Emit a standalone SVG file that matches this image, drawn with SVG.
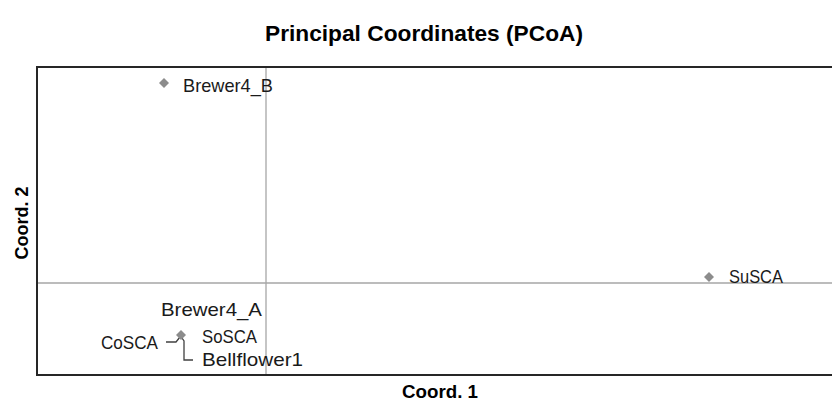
<svg xmlns="http://www.w3.org/2000/svg" width="832" height="403" viewBox="0 0 832 403">
<style>
.lbl{font-family:"Liberation Sans",Arial,sans-serif;font-size:19px;fill:#1a1a1a}
.ttl{font-family:"Liberation Sans",Arial,sans-serif;font-size:22px;font-weight:bold;fill:#000}
.axl{font-family:"Liberation Sans",Arial,sans-serif;font-size:18px;font-weight:bold;fill:#000}
.pt{fill:#8c8c8c}
.zero{stroke:#a6a6a6;stroke-width:1.3;fill:none}
.lead{stroke:#404040;stroke-width:1.3;fill:none}
</style>
<defs>
<path id="dia" d="M0,-5 L5,0 L0,5 L-5,0 Z"/>
</defs>
<rect width="832" height="403" fill="#fff"/>
<text class="ttl" x="424" y="41" text-anchor="middle" textLength="318" lengthAdjust="spacingAndGlyphs">Principal Coordinates (PCoA)</text>
<g id="axes">
<line class="zero" x1="36" y1="283" x2="832" y2="283"/>
<line class="zero" x1="266" y1="67" x2="266" y2="376"/>
<path d="M832,67 H37 V375 H832" fill="none" stroke="#262626" stroke-width="2"/>
<text class="axl" x="440" y="398" text-anchor="middle" textLength="76" lengthAdjust="spacingAndGlyphs">Coord. 1</text>
<text class="axl" transform="translate(28,223) rotate(-90)" text-anchor="middle" textLength="73" lengthAdjust="spacingAndGlyphs">Coord. 2</text>
</g>
<g id="connectors">
<path class="lead" d="M166,342 H176 L180,337"/>
<path class="lead" d="M182,338 L184,341 V360 H193"/>
</g>
<g id="Brewer4_B">
<use href="#dia" class="pt" x="164" y="83"/>
<text class="lbl" x="183" y="92" textLength="90" lengthAdjust="spacingAndGlyphs">Brewer4_B</text>
</g>
<g id="SuSCA">
<use href="#dia" class="pt" x="709" y="277"/>
<text class="lbl" x="729" y="283" textLength="54" lengthAdjust="spacingAndGlyphs">SuSCA</text>
</g>
<g id="cluster">
<use href="#dia" class="pt" x="181" y="335"/>
<text id="Brewer4_A" class="lbl" x="161" y="316" textLength="101" lengthAdjust="spacingAndGlyphs">Brewer4_A</text>
<text id="SoSCA" class="lbl" x="202" y="343" textLength="55" lengthAdjust="spacingAndGlyphs">SoSCA</text>
<text id="Bellflower1" class="lbl" x="202" y="366" textLength="101" lengthAdjust="spacingAndGlyphs">Bellflower1</text>
<text id="CoSCA" class="lbl" x="101" y="349" textLength="57" lengthAdjust="spacingAndGlyphs">CoSCA</text>
</g>
</svg>
